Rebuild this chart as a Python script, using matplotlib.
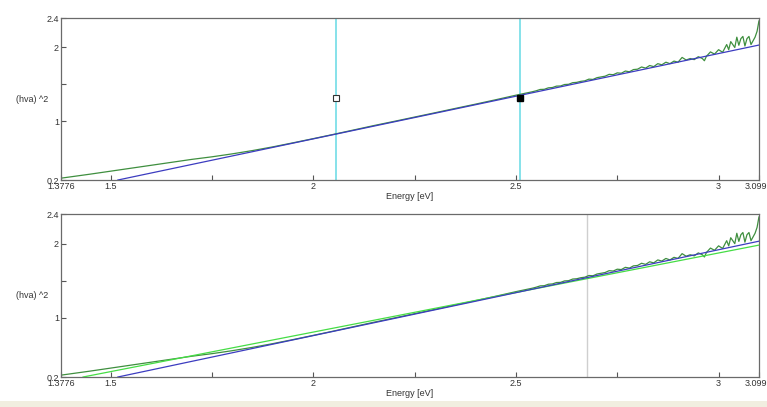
import matplotlib.pyplot as plt
from matplotlib.patches import Rectangle

plt.rcParams['font.family'] = ['Liberation Sans', 'DejaVu Sans']

energy = [1.3776, 1.45, 1.5, 1.6, 1.7, 1.75, 1.8, 1.85, 1.9, 1.95, 2.0, 2.05, 2.1,
          2.15, 2.2, 2.25, 2.3, 2.35, 2.4, 2.45, 2.5, 2.52, 2.54,
          2.55, 2.56, 2.57, 2.58, 2.59, 2.60, 2.61, 2.62, 2.63, 2.64, 2.65, 2.66,
          2.67, 2.68, 2.69, 2.70, 2.71, 2.72, 2.73, 2.74, 2.75, 2.76, 2.77, 2.78,
          2.79, 2.80, 2.81, 2.82, 2.83, 2.84, 2.85, 2.86, 2.87, 2.88, 2.89, 2.90,
          2.91, 2.92, 2.93, 2.94, 2.95, 2.96, 2.965, 2.97, 2.98, 2.99, 3.00, 3.01,
          3.02, 3.025, 3.03, 3.04, 3.045, 3.05, 3.055, 3.06, 3.065, 3.07, 3.075,
          3.08, 3.085, 3.09, 3.095, 3.0996]
hva2 = [0.225, 0.28, 0.32, 0.40, 0.48, 0.515, 0.555, 0.60, 0.65, 0.705, 0.762, 0.82, 0.88,
        0.94, 0.997, 1.055, 1.113, 1.172, 1.23, 1.29, 1.352, 1.375, 1.398,
        1.412, 1.43, 1.432, 1.452, 1.456, 1.475, 1.477, 1.497, 1.50, 1.522, 1.526, 1.54,
        1.547, 1.57, 1.566, 1.59, 1.60, 1.61, 1.635, 1.63, 1.655, 1.65, 1.68, 1.67,
        1.70, 1.705, 1.735, 1.72, 1.755, 1.74, 1.78, 1.765, 1.80, 1.78, 1.815, 1.80,
        1.865, 1.83, 1.85, 1.835, 1.875, 1.85, 1.82, 1.88, 1.94, 1.91, 1.97, 1.935,
        2.04, 1.97, 2.08, 2.00, 2.14, 2.03, 2.12, 2.15, 2.02, 2.12, 2.15,
        2.04, 2.09, 2.14, 2.22, 2.36]

# linear fits (end points)
fit_blue_e = [1.518, 3.0996]
fit_blue_v = [0.2, 2.033]
fit_green_e = [1.432, 3.0996]
fit_green_v = [0.2, 1.98]

# cursors
cursor_e = [2.056, 2.510]
cursor_v = [1.31, 1.31]
gray_cursor_e = 2.676

x_ticks = [1.3776, 1.5, 2, 2.5, 3, 3.0996]
x_ticklabels = ['1.3776', '1.5', '2', '2.5', '3', '3.0996']
x_minor = [1.75, 2.25, 2.75]
y_ticks = [0.2, 1, 2, 2.4]
y_ticklabels = ['0.2', '1', '2', '2.4']
y_minor = [1.5]

DATA_GREEN = '#3f8f3f'
FIT_BLUE = '#3c3cc0'
FIT_LIGHT = '#45dd45'
CYAN = '#86e2ea'
TEXT = '#333333'


def style_axes(ax):
    ax.set_xlim(1.3776, 3.0996)
    ax.set_ylim(0.2, 2.4)
    ax.set_xticks(x_ticks)
    ax.set_xticklabels(x_ticklabels)
    ax.set_xticks(x_minor, minor=True)
    ax.set_yticks(y_ticks)
    ax.set_yticklabels(y_ticklabels)
    ax.set_yticks(y_minor, minor=True)
    ax.tick_params(which='both', direction='in', length=3.5, width=0.8, color='#555555',
                   labelsize=6.5, labelcolor=TEXT, pad=1.5)
    for s in ax.spines.values():
        s.set_color('#6a6a6a')
        s.set_linewidth(0.9)
    ax.set_xlabel('Energy [eV]', fontsize=6.5, color=TEXT, labelpad=1)
    ax.set_ylabel('(hva) ^2', fontsize=6.5, color=TEXT, rotation=0, labelpad=10, va='center')


fig = plt.figure(figsize=(7.67, 4.07), dpi=100)
fig.patch.set_facecolor('white')
fig.patches.append(Rectangle((0, 0), 1, 6 / 407, transform=fig.transFigure,
                             facecolor='#f1eee0', edgecolor='none', zorder=0))

ax1 = fig.add_axes([0.0795, 0.5577, 0.910, 0.398])
ax2 = fig.add_axes([0.0795, 0.0737, 0.910, 0.4005])

# top panel: data, fit and two cursors
for e in cursor_e:
    ax1.axvline(e, color=CYAN, linewidth=1.4, zorder=1)
ax1.plot(energy, hva2, color=DATA_GREEN, linewidth=0.9, zorder=2)
ax1.plot(fit_blue_e, fit_blue_v, color=FIT_BLUE, linewidth=0.9, zorder=3)
ax1.plot(cursor_e[0], cursor_v[0], marker='s', markersize=4, markerfacecolor='white',
         markeredgecolor='#333333', markeredgewidth=0.8, zorder=4)
ax1.plot(cursor_e[1], cursor_v[1], marker='s', markersize=4.5, color='black', zorder=4)
style_axes(ax1)

# bottom panel: data and two fits
ax2.axvline(gray_cursor_e, color='#cfcfcf', linewidth=1.0, zorder=1)
ax2.plot(energy, hva2, color=DATA_GREEN, linewidth=0.9, zorder=2)
ax2.plot(fit_green_e, fit_green_v, color=FIT_LIGHT, linewidth=0.9, zorder=3)
ax2.plot(fit_blue_e, fit_blue_v, color=FIT_BLUE, linewidth=0.9, zorder=3)
style_axes(ax2)

fig.savefig('out.png', dpi=100)
